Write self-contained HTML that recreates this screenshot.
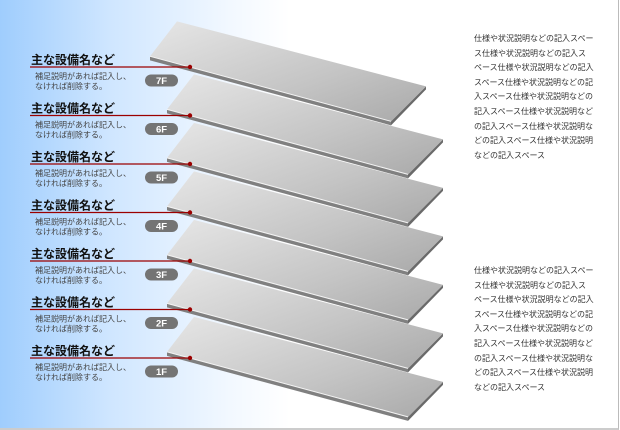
<!DOCTYPE html>
<html><head><meta charset="utf-8"><style>
html,body{margin:0;padding:0;}
body{width:620px;height:430px;overflow:hidden;position:relative;background:#fff;font-family:"Liberation Sans","Noto Sans CJK JP",sans-serif;}
.bg{position:absolute;left:0;top:0;width:618px;height:428px;border-right:1px solid #bbb;border-bottom:2px solid #ccc;background:linear-gradient(to right,#9fcdfd 0px,#cfe6ff 110px,#f2f8ff 230px,#fff 290px);}
svg{position:absolute;left:0;top:0;}
.rt{position:absolute;left:474px;font-size:8px;line-height:14.6px;color:#333;white-space:nowrap;}
</style></head><body>
<div class="bg"></div>
<svg width="620" height="430" viewBox="0 0 620 430">
<defs>
<linearGradient id="g" x1="0" y1="0" x2="1" y2="1" gradientUnits="objectBoundingBox">
<stop offset="0" stop-color="#e6e6e6"/><stop offset="0.6" stop-color="#c4c4c4"/><stop offset="1" stop-color="#a9a9a9"/>
</linearGradient>
</defs>
<g id="layers"></g>
</svg>
<div class="rt" style="top:32px">仕様や状況説明などの記入スペー<br>ス仕様や状況説明などの記入ス<br>ペース仕様や状況説明などの記入<br>スペース仕様や状況説明などの記<br>入スペース仕様や状況説明などの<br>記入スペース仕様や状況説明など<br>の記入スペース仕様や状況説明な<br>どの記入スペース仕様や状況説明<br>などの記入スペース</div>
<div class="rt" style="top:264px">仕様や状況説明などの記入スペー<br>ス仕様や状況説明などの記入ス<br>ペース仕様や状況説明などの記入<br>スペース仕様や状況説明などの記<br>入スペース仕様や状況説明などの<br>記入スペース仕様や状況説明など<br>の記入スペース仕様や状況説明な<br>どの記入スペース仕様や状況説明<br>などの記入スペース</div>
<script>
var g=document.getElementById('layers');var s='';
var labels=['7F','6F','5F','4F','3F','2F','1F'];
for(var i=6;i>=0;i--){
 var dy=67+48.5*i;
 var x0=(i==0)?150:167, y0=dy-(190-x0)*0.267;
 var fx=x0+241, fy=y0+65;
 var bx=x0+27, by=y0-35;
 var rx=fx+35, ry=fy-35;
 s+='<polygon points="'+x0+','+y0+' '+fx+','+fy+' '+fx+','+(fy+4)+' '+x0+','+(y0+4)+'" fill="#808080"/>';
 s+='<polygon points="'+fx+','+fy+' '+rx+','+ry+' '+rx+','+(ry+3)+' '+fx+','+(fy+4)+'" fill="#6a6a6a"/>';
 s+='<polygon points="'+x0+','+y0+' '+bx+','+by+' '+rx+','+ry+' '+fx+','+fy+'" fill="url(#g)"/>';
 s+='<line x1="'+x0+'" y1="'+y0+'" x2="'+fx+'" y2="'+fy+'" stroke="#f4f4f4" stroke-width="1"/>';
}
for(var i=0;i<7;i++){
 var dy=67+48.5*i;
 s+='<text x="31" y="'+(dy-3)+'" font-size="12" font-weight="bold" fill="#111">主な設備名など</text>';
 s+='<line x1="30" y1="'+dy+'" x2="190" y2="'+dy+'" stroke="#9b0000" stroke-width="1.2"/>';
 s+='<circle cx="190" cy="'+dy+'" r="2.2" fill="#9b0000"/>';
 s+='<text x="35" y="'+(dy+12)+'" font-size="8" fill="#444">補足説明があれば記入し、</text>';
 s+='<text x="35" y="'+(dy+22)+'" font-size="8" fill="#444">なければ削除する。</text>';
 s+='<rect x="145" y="'+(dy+7.5)+'" width="33" height="12" rx="6" fill="#747474"/>';
 s+='<text x="161.5" y="'+(dy+17)+'" font-size="9.5" font-weight="bold" fill="#fff" text-anchor="middle">'+labels[i]+'</text>';
}
g.innerHTML=s;
</script>
</body></html>
